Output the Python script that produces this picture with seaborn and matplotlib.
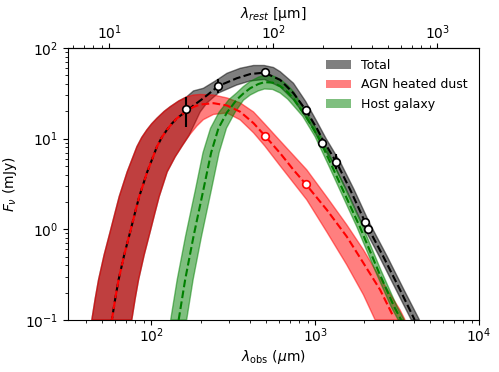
import numpy as np
import matplotlib
matplotlib.use('Agg')
import matplotlib.pyplot as plt
import seaborn as sns
from matplotlib.patches import Patch

# redshift factor (1 + z) linking observed and rest wavelength
one_plus_z = 5.55

# observed photometry (um, mJy)
obs_wave = [163, 255, 493, 877, 1104, 1343, 2018, 2094]
obs_flux = [21.1, 38.0, 54.0, 20.7, 8.98, 5.57, 1.19, 1.00]
obs_err_lo = [7.5, 6.0, 3.0, 1.0, 0.5, 1.0, 0.08, 0.07]
obs_err_hi = [7.9, 7.0, 3.0, 1.0, 0.5, 1.2, 0.08, 0.07]

# AGN model evaluated at two bands
agn_pt_wave = [493, 877]
agn_pt_flux = [10.8, 3.14]

# total model (median)
tot_wave = [57.5, 60.3, 63.2, 68.4, 74.5, 79.3, 84.5, 94.5, 108.4, 115.9, 124.7, 133.4,
            143.6, 163.5, 181, 208, 257, 333, 402, 491, 612, 738, 877, 1024, 1104,
            1355, 1634, 2018, 2606, 3296, 4050]
tot_flux = [0.1, 0.171, 0.277, 0.522, 0.944, 1.48, 2.3, 4.29, 8.16, 10.3, 12.5, 14.6,
            16.8, 20.0, 23.2, 27.9, 38.1, 46.4, 51.6, 53.5, 44.4, 31.7, 20.7, 13.0, 10.0,
            5.4, 2.75, 1.2, 0.5, 0.215, 0.1]

# AGN heated dust (median)
agn_wave = [57.5, 60.3, 63.2, 68.4, 74.5, 79.3, 84.5, 94.5, 108.4, 115.9, 124.7, 133.4,
            143.6, 163.5, 180.3, 199, 240, 290, 349, 421, 493, 612, 738, 878, 1178,
            1560, 1972, 2491, 3000]
agn_flux = [0.1, 0.171, 0.277, 0.522, 0.944, 1.48, 2.3, 4.29, 8.16, 10.3, 12.5, 14.6,
            16.8, 20.0, 22.3, 23.8, 24.6, 23.2, 19.8, 14.8, 10.8, 6.9, 4.52, 3.14, 1.64,
            0.83, 0.423, 0.215, 0.109]

# host galaxy (median)
host_wave = [147, 161, 181, 208, 232, 257, 290, 333, 365, 402, 450, 491, 550, 612, 680,
             738, 877, 1043, 1265, 1524, 1880, 2423, 3033, 3350]
host_flux = [0.1, 0.277, 0.83, 2.72, 7.0, 13.0, 19.5, 27.0, 31.5, 36.0, 40.0, 42.0, 41.5,
             38.0, 32.5, 27.5, 17.6, 10.5, 5.0, 2.4, 1.05, 0.35, 0.14, 0.1]

# uncertainty envelopes: upper edge then lower edge (both left to right)
agn_up_wave = [43.4, 45.5, 47.7, 51.6, 56.2, 59.9, 63.8, 71.3, 81.8, 87.5, 94.1, 100.7,
               108.4, 120, 130.6, 147, 165, 181, 199, 240, 290, 349, 421, 493, 612, 890,
               1178, 1560, 1972, 2491, 3296, 3538]
agn_up_flux = [0.1, 0.171, 0.277, 0.522, 0.944, 1.48, 2.3, 4.29, 8.16, 10.3, 12.5, 14.6,
               16.8, 20.0, 22.5, 26.0, 29.0, 30.3, 30.7, 30.3, 28.1, 24.8, 19.7, 14.5,
               9.44, 4.52, 2.27, 1.12, 0.593, 0.291, 0.129, 0.1]
agn_lo_wave = [76.1, 79.8, 83.7, 90.6, 98.6, 105, 111.9, 125.1, 140, 155, 170, 190, 208,
               240, 290, 349, 421, 493, 612, 738, 890, 1178, 1560, 1972, 2323]
agn_lo_flux = [0.1, 0.171, 0.277, 0.522, 0.944, 1.48, 2.3, 4.29, 6.3, 8.4, 10.8, 13.8,
               16.2, 18.5, 19.2, 16.1, 11.6, 8.3, 5.0, 3.25, 2.11, 0.935, 0.405, 0.189,
               0.1]

tot_up_wave = [43.4, 45.5, 47.7, 51.6, 56.2, 59.9, 63.8, 71.3, 81.8, 87.5, 94.1, 100.7,
               108.4, 120, 130.6, 147, 165, 181, 208, 252, 290, 349, 421, 489, 557, 612,
               738, 877, 1024, 1167, 1432, 1727, 2133, 2755, 3484, 4330]
tot_up_flux = [0.1, 0.171, 0.277, 0.522, 0.944, 1.48, 2.3, 4.29, 8.16, 10.3, 12.5, 14.6,
               16.8, 20.0, 22.5, 26.0, 29.0, 33.6, 35.9, 44.4, 52.6, 59.7, 64.1, 64.1,
               60.9, 54.8, 40.8, 25.6, 15.5, 10.0, 5.4, 2.75, 1.2, 0.5, 0.215, 0.1]
tot_lo_wave = [76.1, 79.8, 83.7, 90.6, 98.6, 105, 111.9, 125.1, 140, 155, 170, 190, 199,
               219, 257, 333, 402, 491, 612, 738, 877, 969, 1044, 1282, 1546, 1909, 2465,
               3118, 3860]
tot_lo_flux = [0.1, 0.171, 0.277, 0.522, 0.944, 1.48, 2.3, 4.29, 6.3, 8.4, 10.8, 16.5,
               19.7, 24.8, 31.9, 39.1, 43.3, 45.0, 37.2, 26.7, 17.3, 13.0, 10.0, 5.4,
               2.75, 1.2, 0.5, 0.215, 0.1]

host_up_wave = [131.4, 144, 161.8, 186, 207, 230, 259, 298, 333, 365, 402, 450, 491, 550,
                612, 680, 738, 915, 1088, 1319, 1590, 1961, 2527, 3163, 3494]
host_up_flux = [0.1, 0.277, 0.83, 2.72, 7.0, 13.0, 19.5, 27.0, 32.1, 37.5, 42.8, 47.6,
                50.0, 49.4, 45.2, 38.7, 33.0, 17.6, 10.5, 5.0, 2.4, 1.05, 0.35, 0.14, 0.1]
host_lo_wave = [164.5, 180, 202.5, 232.8, 259.6, 287.6, 324.5, 365, 402, 450, 491, 550,
                612, 680, 738, 841, 1000, 1213, 1461, 1802, 2323, 2908, 3212]
host_lo_flux = [0.1, 0.277, 0.83, 2.72, 7.0, 13.0, 19.5, 26.5, 30.3, 33.6, 35.3, 34.9,
                31.9, 27.3, 23.1, 17.6, 10.5, 5.0, 2.4, 1.05, 0.35, 0.14, 0.1]


def envelope(ax, up_w, up_f, lo_w, lo_f, color):
    xs = np.concatenate([up_w, lo_w[::-1]])
    ys = np.concatenate([up_f, lo_f[::-1]])
    ax.fill(xs, ys, color=color, alpha=0.5, lw=1)


def main():
    fig, ax = plt.subplots(figsize=(4.99, 3.72), dpi=100)
    fig.subplots_adjust(left=0.136, right=0.960, bottom=0.140, top=0.871)
    ax.set_xscale('log')
    ax.set_yscale('log')

    # bands: total first, AGN over it (dark red overlap), host on top
    envelope(ax, tot_up_wave, tot_up_flux, tot_lo_wave, tot_lo_flux, 'k')
    envelope(ax, agn_up_wave, agn_up_flux, agn_lo_wave, agn_lo_flux, 'r')
    envelope(ax, host_up_wave, host_up_flux, host_lo_wave, host_lo_flux, 'g')

    # black dashes shifted so they peek through the gaps of the red line
    sns.lineplot(x=tot_wave, y=tot_flux, color='k', linestyle=(2.0, (3.7, 1.6)), lw=1.5,
                 sort=False, estimator=None, ax=ax)
    sns.lineplot(x=agn_wave, y=agn_flux, color='r', linestyle='--', lw=1.5,
                 sort=False, estimator=None, ax=ax)
    sns.lineplot(x=host_wave, y=host_flux, color='g', linestyle='--', lw=1.5,
                 sort=False, estimator=None, ax=ax)

    ax.errorbar(obs_wave, obs_flux, yerr=[obs_err_lo, obs_err_hi], fmt='none',
                ecolor='k', elinewidth=1.5, zorder=4)
    sns.scatterplot(x=obs_wave, y=obs_flux, color='white', edgecolor='k',
                    linewidth=1.2, s=30, zorder=5, ax=ax)
    sns.scatterplot(x=agn_pt_wave, y=agn_pt_flux, color='white', edgecolor='r',
                    linewidth=1.2, s=30, zorder=5, ax=ax)

    ax.set_xlim(31, 1e4)
    ax.set_ylim(0.1, 100)
    ax.tick_params(axis='x', pad=1.5)
    ax.set_xlabel(r'$\lambda_{\rm obs}$ ($\mu$m)', labelpad=2)
    ax.set_ylabel(r'$F_\nu$ (mJy)')

    secax = ax.secondary_xaxis('top', functions=(lambda x: x / one_plus_z,
                                                 lambda x: x * one_plus_z))
    secax.set_xticks([10, 100, 1000])
    secax.tick_params(axis='x', pad=0.5)
    secax.set_xlabel(r'$\lambda_{rest}$ [μm]', labelpad=4)

    handles = [Patch(facecolor='k', alpha=0.5, label='Total'),
               Patch(facecolor='r', alpha=0.5, label='AGN heated dust'),
               Patch(facecolor='g', alpha=0.5, label='Host galaxy')]
    ax.legend(handles=handles, loc='upper right', frameon=False, fontsize=9)

    fig.savefig('out.png', dpi=100)
    plt.close(fig)


if __name__ == "__main__":
    main()
